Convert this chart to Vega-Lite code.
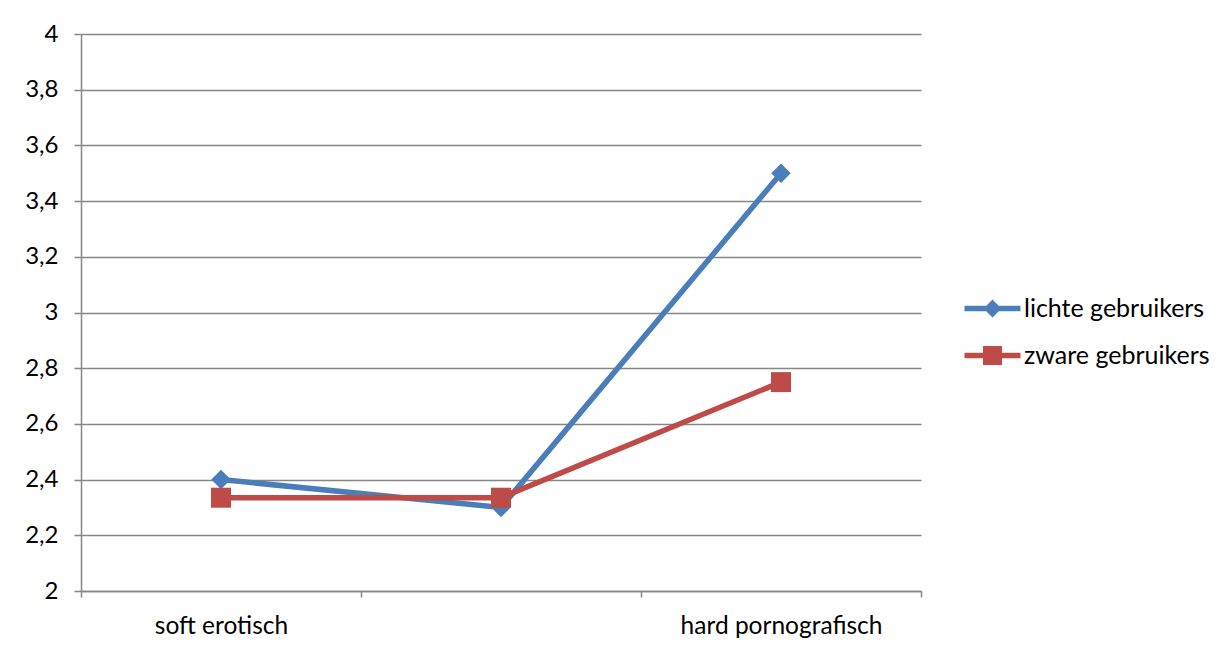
{
  "$schema": "https://vega.github.io/schema/vega-lite/v6.json",
  "width": 840,
  "height": 557,
  "autosize": "none",
  "padding": {"left": 81, "top": 34, "right": 307, "bottom": 63},
  "background": "white",
  "config": {"view": {"stroke": null}, "font": "Lato"},
  "data": {
    "values": [
      {"categorie": "soft erotisch", "reeks": "lichte gebruikers", "waarde": 2.4},
      {"categorie": "midden", "reeks": "lichte gebruikers", "waarde": 2.3},
      {"categorie": "hard pornografisch", "reeks": "lichte gebruikers", "waarde": 3.5},
      {"categorie": "soft erotisch", "reeks": "zware gebruikers", "waarde": 2.335},
      {"categorie": "midden", "reeks": "zware gebruikers", "waarde": 2.335},
      {"categorie": "hard pornografisch", "reeks": "zware gebruikers", "waarde": 2.75}
    ]
  },
  "encoding": {
    "x": {
      "field": "categorie",
      "type": "nominal",
      "sort": ["soft erotisch", "midden", "hard pornografisch"],
      "scale": {"type": "band", "paddingInner": 0, "paddingOuter": 0},
      "axis": {
        "title": null,
        "tickBand": "extent",
        "grid": false,
        "labelAngle": 0,
        "labelLimit": 0,
        "labelExpr": "datum.value == 'midden' ? '' : datum.value",
        "domainColor": "#868686",
        "domainWidth": 1.5,
        "tickColor": "#868686",
        "tickWidth": 1.5,
        "tickSize": 6,
        "labelFontSize": 24.5,
        "labelColor": "black",
        "labelPadding": 17
      }
    },
    "y": {
      "field": "waarde",
      "type": "quantitative",
      "scale": {"domain": [2, 4], "nice": false, "zero": false},
      "axis": {
        "title": null,
        "values": [2, 2.2, 2.4, 2.6, 2.8, 3, 3.2, 3.4, 3.6, 3.8, 4],
        "labelExpr": "replace(format(datum.value, '~g'), '.', ',')",
        "grid": true,
        "gridColor": "#868686",
        "gridWidth": 1.5,
        "domainColor": "#868686",
        "domainWidth": 1.5,
        "tickColor": "#868686",
        "tickWidth": 1.5,
        "tickSize": 7,
        "labelFontSize": 24,
        "labelColor": "black",
        "labelPadding": 16
      }
    },
    "color": {
      "field": "reeks",
      "type": "nominal",
      "scale": {"domain": ["lichte gebruikers", "zware gebruikers"], "range": ["#4A7EBB", "#BE4B48"]},
      "legend": {
        "title": null,
        "orient": "none",
        "legendX": 899,
        "legendY": 262,
        "symbolSize": 400,
        "labelOffset": 19,
        "labelFontSize": 25,
        "labelLimit": 0,
        "labelColor": "black",
        "rowPadding": 21,
        "encode": {
          "symbols": {
            "update": {
              "shape": {"signal": "datum.value == 'lichte gebruikers' ? 'M-2.8,-0.27H2.8V0.27H-2.8Z M0,-0.9L0.9,0L0,0.9L-0.9,0Z' : 'M-2.8,-0.27H2.8V0.27H-2.8Z M-0.95,-0.95H0.95V0.95H-0.95Z'"},
              "fill": {"signal": "scale('color', datum.value)"},
              "stroke": {"value": "transparent"},
              "strokeWidth": {"value": 0},
              "opacity": {"value": 1}
            }
          }
        }
      }
    }
  },
  "layer": [
    {"mark": {"type": "line", "strokeWidth": 5.5}},
    {
      "transform": [{"filter": "datum.reeks == 'lichte gebruikers'"}],
      "mark": {"type": "point", "filled": true, "opacity": 1, "size": 380, "shape": "diamond"}
    },
    {
      "transform": [{"filter": "datum.reeks == 'zware gebruikers'"}],
      "mark": {"type": "point", "filled": true, "opacity": 1, "size": 400, "shape": "square"}
    }
  ]
}
